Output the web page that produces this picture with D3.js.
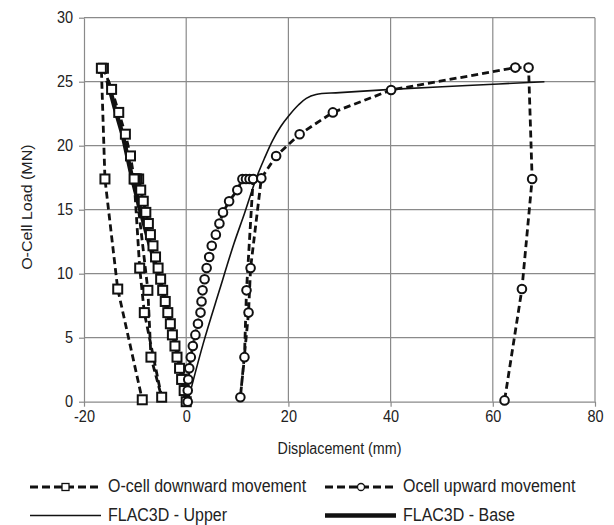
<!DOCTYPE html>
<html>
<head>
<meta charset="utf-8">
<script src="https://d3js.org/d3.v7.min.js"></script>
<style>
  body { margin: 0; background: #fff; }
  text { font-family: "Liberation Sans", Arial, sans-serif; fill: #222; }
</style>
</head>
<body>
<div id="chart"></div>
<script>
// O-cell downward movement (load in MN, displacement in mm), in test order
var downLoad = [0, 0.87, 1.74, 2.61, 3.48, 4.35, 5.22, 6.09, 6.96, 7.83, 8.70, 9.57, 10.44, 11.31, 12.18, 13.05, 13.92, 14.79, 15.66, 16.53, 17.40, 17.40, 17.40,
                8.70, 3.48, 0.35, 6.96, 10.44, 17.40,
                19.2, 20.9, 22.6, 24.4, 26.05, 26.05, 17.4, 8.8, 0.15];
var downDisp = [0, -0.4, -0.9, -1.3, -1.8, -2.2, -2.7, -3.1, -3.6, -4.1, -4.6, -5.0, -5.5, -6.0, -6.5, -7.0, -7.4, -7.9, -8.4, -8.9, -9.3, -9.7, -10.0,
                -7.5, -6.9, -4.8, -8.2, -9.1, -10.2,
                -10.9, -11.9, -13.2, -14.6, -16.2, -16.6, -15.9, -13.4, -8.6];

// Ocell upward movement
var upLoad = [0, 0.87, 1.74, 2.61, 3.48, 4.35, 5.22, 6.09, 6.96, 7.83, 8.70, 9.57, 10.44, 11.31, 12.18, 13.05, 13.92, 14.79, 15.66, 16.53, 17.40, 17.40, 17.40, 17.40,
              8.70, 3.48, 0.35, 6.96, 10.44, 17.45,
              19.2, 20.9, 22.6, 24.35, 26.1, 26.1, 17.4, 8.8, 0.1];
var upDisp = [0.3, 0.3, 0.4, 0.6, 0.9, 1.3, 1.8, 2.3, 2.8, 3.0, 3.2, 3.6, 4.0, 4.5, 5.0, 5.8, 6.5, 7.2, 8.4, 10.0, 11.0, 11.7, 12.4, 13.1,
              11.8, 11.4, 10.6, 12.2, 12.6, 14.7,
              17.6, 22.2, 28.7, 40.1, 64.4, 67.0, 67.7, 65.7, 62.3];

// FLAC3D - Upper
var upperDisp = [0.3, 3.3, 6.5, 9.3, 11.4, 13.7, 15.3, 16.9, 18.5, 20.2, 22.0, 23.5, 25.4, 30.0, 40.1, 55.0, 70.1];
var upperLoad = [0, 4.5, 8.7, 12.3, 14.7, 17.45, 19.0, 20.4, 21.5, 22.4, 23.2, 23.7, 24.0, 24.15, 24.4, 24.7, 25.0];

// FLAC3D - Base
var baseDisp = [0, -1.0, -2.4, -3.9, -5.5, -7.3, -9.0, -10.6, -12.4, -14.0, -15.4];
var baseLoad = [0, 2.5, 5.0, 7.5, 10.0, 12.5, 15.0, 17.5, 20.8, 23.0, 25.1];

var xTicks = [-20, 0, 20, 40, 60, 80];
var yTicks = [0, 5, 10, 15, 20, 25, 30];

var legendItems = [
  {label: "O-cell downward movement", kind: "down", col: 0, row: 0},
  {label: "Ocell upward movement", kind: "up", col: 1, row: 0},
  {label: "FLAC3D - Upper", kind: "upper", col: 0, row: 1},
  {label: "FLAC3D - Base", kind: "base", col: 1, row: 1}
];

var width = 614, height = 525;
var gridColor = "#8a8a8a";
var stretch = 1.12;   // the original picture is a little taller than wide

var svg = d3.select("#chart").append("svg")
    .attr("width", width)
    .attr("height", height);
svg.append("rect").attr("width", width).attr("height", height).attr("fill", "#fff");

var x = d3.scaleLinear().domain([-20, 80]).range([84, 595]);
var y = d3.scaleLinear().domain([0, 30]).range([401.7, 17.7]);

// grid
svg.append("g").selectAll("line").data(yTicks.slice(1)).enter().append("line")
    .attr("x1", x(-20)).attr("x2", x(80))
    .attr("y1", function(d) { return y(d); }).attr("y2", function(d) { return y(d); })
    .attr("stroke", gridColor).attr("stroke-width", 1.2);
svg.append("g").selectAll("line").data(xTicks.slice(1)).enter().append("line")
    .attr("y1", y(0)).attr("y2", y(30))
    .attr("x1", function(d) { return x(d); }).attr("x2", function(d) { return x(d); })
    .attr("stroke", gridColor).attr("stroke-width", 1.2);

// axes
var xAxis = svg.append("g")
    .attr("transform", "translate(0," + y(0) + ")")
    .call(d3.axisBottom(x).tickValues(xTicks).tickFormat(function(d) { return String(d); })
          .tickSize(5).tickSizeOuter(0).tickPadding(3));
var yAxis = svg.append("g")
    .attr("transform", "translate(" + x(-20) + ",0)")
    .call(d3.axisLeft(y).tickValues(yTicks).tickSize(5).tickSizeOuter(0).tickPadding(6));
[xAxis, yAxis].forEach(function(a) {
  a.select(".domain").attr("stroke", gridColor).attr("stroke-width", 1.2);
  a.selectAll(".tick line").attr("stroke", gridColor).attr("stroke-width", 1.2);
  a.selectAll(".tick text").style("font-size", "14.5px").attr("fill", "#222")
    .style("font-family", "'Liberation Sans', Arial, sans-serif")
    .attr("transform", "scale(1," + stretch + ")");
});

svg.append("text")
    .attr("transform", "translate(" + x(30) + ",454) scale(1," + stretch + ")")
    .attr("text-anchor", "middle")
    .style("font-size", "14.3px")
    .text("Displacement (mm)");
svg.append("text")
    .attr("transform", "translate(32," + y(15.2) + ") rotate(-90) scale(" + stretch + ",1)")
    .attr("text-anchor", "middle")
    .style("font-size", "14.3px")
    .text("O-Cell Load (MN)");

function pts(xs, ys) {
  return xs.map(function(d, i) { return [d, ys[i]]; });
}

var line = d3.line().x(function(d) { return x(d[0]); }).y(function(d) { return y(d[1]); });

var downPts = pts(downDisp, downLoad);
var upPts = pts(upDisp, upLoad);

// FLAC3D lines
svg.append("path").datum(pts(baseDisp, baseLoad))
    .attr("d", line).attr("fill", "none").attr("stroke", "#111").attr("stroke-width", 4.5);
svg.append("path").datum(pts(upperDisp, upperLoad))
    .attr("d", d3.line().curve(d3.curveCatmullRom.alpha(0.5)).x(function(d) { return x(d[0]); }).y(function(d) { return y(d[1]); }))
    .attr("fill", "none").attr("stroke", "#111").attr("stroke-width", 1.6);

// measured series
svg.append("path").datum(downPts)
    .attr("d", line).attr("fill", "none").attr("stroke", "#111")
    .attr("stroke-width", 2.8).attr("stroke-dasharray", "7,4");
svg.append("path").datum(upPts)
    .attr("d", line).attr("fill", "none").attr("stroke", "#111")
    .attr("stroke-width", 2.8).attr("stroke-dasharray", "7,4");

svg.append("g").selectAll("rect").data(downPts).enter().append("rect")
    .attr("x", function(d) { return x(d[0]) - 4.5; })
    .attr("y", function(d) { return y(d[1]) - 4.5; })
    .attr("width", 9).attr("height", 9)
    .attr("fill", "#fff").attr("stroke", "#111").attr("stroke-width", 2);
svg.append("g").selectAll("circle").data(upPts).enter().append("circle")
    .attr("cx", function(d) { return x(d[0]); })
    .attr("cy", function(d) { return y(d[1]); })
    .attr("r", 4.3)
    .attr("fill", "#fff").attr("stroke", "#111").attr("stroke-width", 2);

// legend
var leg = svg.append("g");
legendItems.forEach(function(it) {
  var lx = it.col === 0 ? 30 : 325, ly = 487 + it.row * 28.5;
  var g = leg.append("g").attr("transform", "translate(" + lx + "," + ly + ")");
  if (it.kind === "down" || it.kind === "up") {
    g.append("line").attr("x1", 0).attr("x2", 71).attr("y1", 0).attr("y2", 0)
      .attr("stroke", "#111").attr("stroke-width", 2.8).attr("stroke-dasharray", "8,4");
    if (it.kind === "down") {
      g.append("rect").attr("x", 32).attr("y", -3.5).attr("width", 7).attr("height", 7)
        .attr("fill", "#fff").attr("stroke", "#111").attr("stroke-width", 1.3);
    } else {
      g.append("circle").attr("cx", 36).attr("cy", 0).attr("r", 3.5)
        .attr("fill", "#fff").attr("stroke", "#111").attr("stroke-width", 1.3);
    }
  } else {
    g.append("line").attr("x1", 0).attr("x2", 71).attr("y1", 0).attr("y2", 0)
      .attr("stroke", "#111").attr("stroke-width", it.kind === "base" ? 4.5 : 1.6);
  }
  g.append("text")
    .attr("transform", "translate(78,5.2) scale(1," + stretch + ")")
    .style("font-size", "16px")
    .text(it.label);
});
</script>
</body>
</html>
